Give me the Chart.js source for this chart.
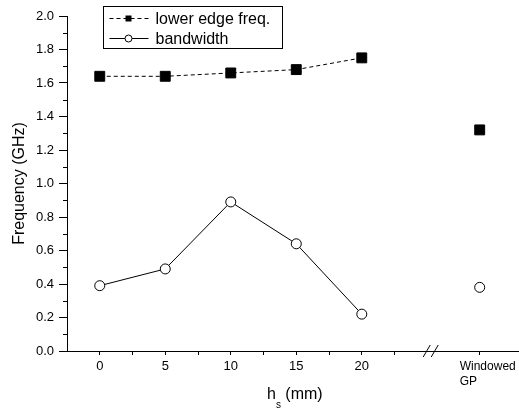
<!DOCTYPE html>
<html>
<head>
<meta charset="utf-8">
<script src="https://cdn.jsdelivr.net/npm/chart.js@4/dist/chart.umd.min.js"></script>
<style>
    html, body { margin: 0; padding: 0; background: #fff; overflow: hidden; }
</style>
</head>
<body>
<canvas id="chart" width="519" height="409"></canvas>
<script>
// data
const hs = [0, 5, 10, 15, 20];
const lowerEdge = [1.64, 1.64, 1.66, 1.68, 1.75];
const bandwidth = [0.39, 0.49, 0.89, 0.64, 0.22];
const windowedX = 29;             // position after the axis break
const windowedLower = [1.32];
const windowedBand = [0.38];
const xTicks = [0, 2.5, 5, 7.5, 10, 12.5, 15, 17.5, 20, 22.5, windowedX];
const xLabels = ['0', '', '5', '', '10', '', '15', '', '20', '', ''];
const windowedLabel = ['Windowed', 'GP'];

const FONT = '"Liberation Sans", Arial, sans-serif';

const toPoints = (xs, ys) => ys.map((y, i) => ({ x: xs[i], y: y }));

const squareStyle = {
    pointStyle: 'rect',
    pointRadius: 7,
    pointHoverRadius: 7,
    pointBackgroundColor: '#000',
    pointBorderColor: '#000',
    pointBorderWidth: 1
};
const circleStyle = {
    pointStyle: 'circle',
    pointRadius: 5,
    pointHoverRadius: 5,
    pointBackgroundColor: '#fff',
    pointBorderColor: '#000',
    pointBorderWidth: 1
};

// extra drawing: minor ticks, axis break, titles, legend box
const decorations = {
    id: 'decorations',
    afterDraw(chart) {
        const ctx = chart.ctx;
        const x = chart.scales.x;
        const y = chart.scales.y;
        const area = chart.chartArea;
        ctx.save();
        ctx.strokeStyle = '#000';
        ctx.fillStyle = '#000';
        ctx.lineWidth = 1;

        // minor y ticks
        for (let v = 0.1; v < 2.0; v += 0.2) {
            const py = Math.round(y.getPixelForValue(v)) + 0.5;
            ctx.beginPath();
            ctx.moveTo(area.left - 4, py);
            ctx.lineTo(area.left, py);
            ctx.stroke();
        }

        // axis break marks
        const bx = x.getPixelForValue(25.3);
        const by = area.bottom;
        ctx.beginPath();
        [-4, 4].forEach(d => {
            ctx.moveTo(bx + d - 4, by + 6);
            ctx.lineTo(bx + d + 3, by - 6);
        });
        ctx.stroke();

        // windowed GP label
        ctx.fillStyle = '#000';
        ctx.font = '12px ' + FONT;
        ctx.textAlign = 'left';
        ctx.textBaseline = 'middle';
        const wx = x.getPixelForValue(windowedX) - 20;
        ctx.fillText(windowedLabel[0], wx, 367);
        ctx.fillText(windowedLabel[1], wx, 382);

        // x title with subscript
        ctx.font = '16px ' + FONT;
        ctx.textBaseline = 'alphabetic';
        let tx = 267;
        ctx.fillText('h', tx, 399);
        tx += ctx.measureText('h').width;
        ctx.font = '10px ' + FONT;
        ctx.fillText('s', tx, 408);
        tx += ctx.measureText('s').width;
        ctx.font = '16px ' + FONT;
        ctx.fillText(' (mm)', tx, 399);

        // y title
        ctx.save();
        ctx.translate(20, (area.top + area.bottom) / 2);
        ctx.rotate(-Math.PI / 2);
        ctx.textAlign = 'center';
        ctx.textBaseline = 'middle';
        ctx.fillText('Frequency (GHz)', 0, 0);
        ctx.restore();

        // legend
        const lx = 103.5, ly = 6.5, lw = 179, lh = 42;
        ctx.fillStyle = '#fff';
        ctx.fillRect(lx, ly, lw, lh);
        ctx.strokeRect(lx, ly, lw, lh);
        const rows = [
            { ds: chart.data.datasets[0], y: ly + 11 },
            { ds: chart.data.datasets[1], y: ly + 31 }
        ];
        rows.forEach(r => {
            const cy = Math.round(r.y) + 0.5;
            ctx.setLineDash(r.ds.borderDash || []);
            ctx.beginPath();
            ctx.moveTo(lx + 6, cy);
            ctx.lineTo(lx + 45, cy);
            ctx.stroke();
            ctx.setLineDash([]);
            const mx = lx + 25;
            if (r.ds.pointStyle === 'rect') {
                ctx.fillStyle = '#000';
                ctx.fillRect(mx - 3, cy - 3, 6, 6);
            } else {
                ctx.fillStyle = '#fff';
                ctx.beginPath();
                ctx.arc(mx, cy, 3.5, 0, Math.PI * 2);
                ctx.fill();
                ctx.stroke();
            }
            ctx.fillStyle = '#000';
            ctx.font = '16px ' + FONT;
            ctx.textAlign = 'left';
            ctx.textBaseline = 'middle';
            ctx.fillText(r.ds.label, lx + 52, cy + 1);
        });
        ctx.restore();
    }
};

new Chart(document.getElementById('chart'), {
    type: 'line',
    data: {
        datasets: [
            Object.assign({
                label: 'lower edge freq.',
                data: toPoints(hs, lowerEdge),
                borderColor: '#000',
                borderWidth: 1,
                borderDash: [4, 3]
            }, squareStyle),
            Object.assign({
                label: 'bandwidth',
                data: toPoints(hs, bandwidth),
                borderColor: '#000',
                borderWidth: 1
            }, circleStyle),
            Object.assign({
                label: 'lower edge freq. (windowed GP)',
                data: toPoints([windowedX], windowedLower),
                showLine: false
            }, squareStyle),
            Object.assign({
                label: 'bandwidth (windowed GP)',
                data: toPoints([windowedX], windowedBand),
                showLine: false
            }, circleStyle)
        ]
    },
    options: {
        responsive: false,
        animation: false,
        layout: { autoPadding: false, padding: { top: 16, right: 0, left: 0, bottom: 0 } },
        plugins: {
            legend: { display: false },
            tooltip: { enabled: false }
        },
        scales: {
            x: {
                type: 'linear',
                min: -2.5,
                max: 32,
                afterBuildTicks: scale => {
                    scale.ticks = xTicks.map(v => ({ value: v }));
                },
                afterFit: scale => {
                    scale.height = 58;
                    scale.paddingLeft = 0;
                    scale.paddingRight = 0;
                },
                ticks: {
                    autoSkip: false,
                    maxRotation: 0,
                    padding: 4,
                    color: '#000',
                    font: { family: FONT, size: 13 },
                    callback: (v, i) => xLabels[i]
                },
                grid: {
                    drawOnChartArea: false,
                    tickLength: 4,
                    tickColor: '#000'
                },
                border: { color: '#000', width: 1 }
            },
            y: {
                min: 0,
                max: 2.0,
                afterFit: scale => { scale.width = 67; },
                ticks: {
                    stepSize: 0.2,
                    padding: 5,
                    color: '#000',
                    font: { family: FONT, size: 13 },
                    callback: v => v.toFixed(1)
                },
                grid: {
                    drawOnChartArea: false,
                    tickLength: 8,
                    tickColor: '#000'
                },
                border: { color: '#000', width: 1 }
            }
        }
    },
    plugins: [decorations]
});
</script>
</body>
</html>
